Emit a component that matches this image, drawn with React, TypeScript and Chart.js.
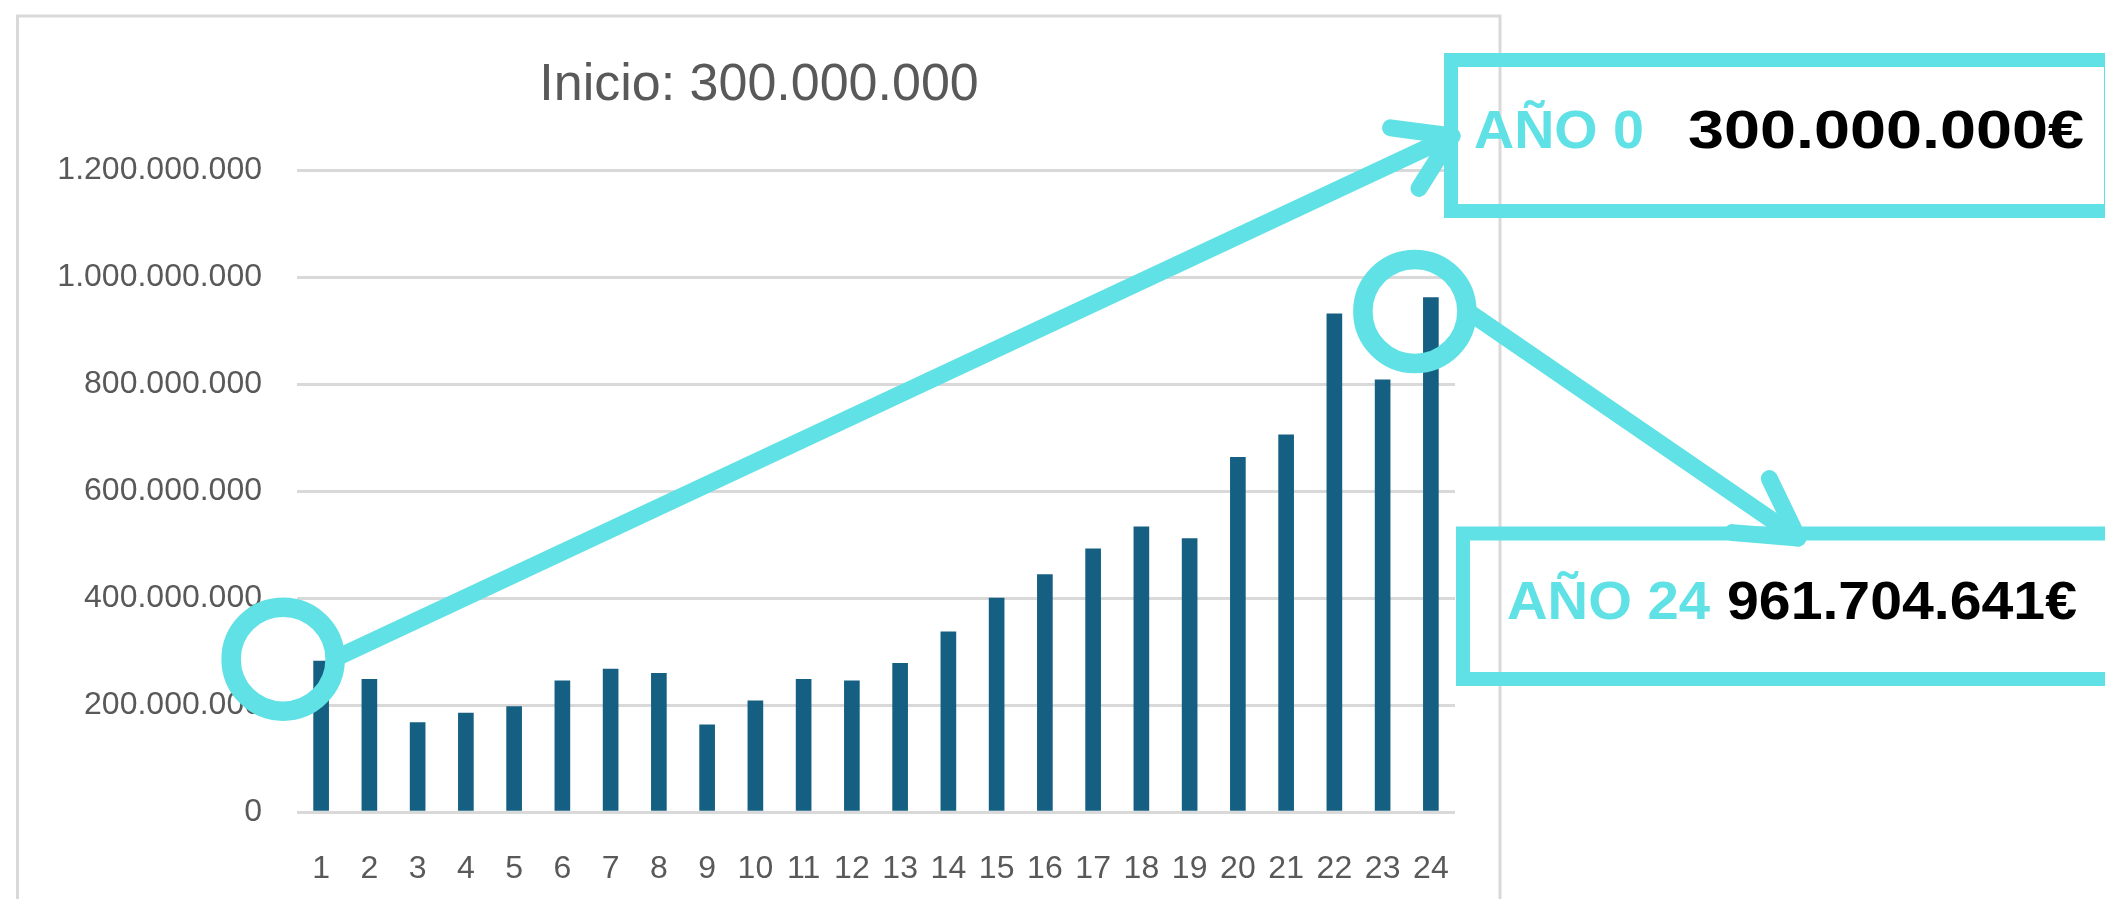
import React, { useEffect, useRef } from "react";
import { Chart, registerables } from "chart.js";

Chart.register(...registerables);

// ---- Data ----
const YEARS: string[] = [
  "1", "2", "3", "4", "5", "6", "7", "8", "9", "10", "11", "12",
  "13", "14", "15", "16", "17", "18", "19", "20", "21", "22", "23", "24",
];
const VALUES: number[] = [
  282e6, 248e6, 167e6, 185e6, 197e6, 245e6, 267e6, 259e6, 163e6, 208e6, 248e6, 245e6,
  278e6, 337e6, 400e6, 444e6, 492e6, 533e6, 511e6, 663e6, 705e6, 931e6, 808e6, 961.704641e6,
];
const Y_MAX = 1.2e9;
const Y_STEP = 2e8;
const TITLE = "Inicio: 300.000.000";
const BOX1_LABEL = "AÑO 0";
const BOX1_VALUE = "300.000.000€";
const BOX2_LABEL = "AÑO 24";
const BOX2_VALUE = "961.704.641€";

// ---- Styles ----
const W = 2105;
const H = 899;
const FONT = "'Liberation Sans', Arial, sans-serif";
const BAR_COLOR = "#156082";
const GRID_COLOR = "#d9d9d9";
const TEXT_COLOR = "#595959";
const CYAN = "#5fe1e5";

const fmt = (v: number) =>
  Math.round(v)
    .toString()
    .replace(/\B(?=(\d{3})+(?!\d))/g, ".");

function drawScaledText(
  ctx: CanvasRenderingContext2D,
  text: string,
  x: number,
  y: number,
  targetW: number
) {
  const w = ctx.measureText(text).width;
  ctx.save();
  ctx.translate(x, y);
  ctx.scale(targetW / w, 1);
  ctx.textAlign = "left";
  ctx.textBaseline = "alphabetic";
  ctx.fillText(text, 0, 0);
  ctx.restore();
}

function drawArrow(
  ctx: CanvasRenderingContext2D,
  sx: number,
  sy: number,
  tx: number,
  ty: number,
  armLen: number,
  armAngle: number
) {
  ctx.beginPath();
  ctx.moveTo(sx, sy);
  ctx.lineTo(tx, ty);
  ctx.stroke();
  const back = Math.atan2(sy - ty, sx - tx);
  ctx.beginPath();
  ctx.moveTo(tx + armLen * Math.cos(back + armAngle), ty + armLen * Math.sin(back + armAngle));
  ctx.lineTo(tx, ty);
  ctx.lineTo(tx + armLen * Math.cos(back - armAngle), ty + armLen * Math.sin(back - armAngle));
  ctx.stroke();
}

const framePlugin = {
  id: "frame",
  beforeDraw(chart: any) {
    const ctx = chart.ctx as CanvasRenderingContext2D;
    ctx.save();
    ctx.fillStyle = "#ffffff";
    ctx.fillRect(0, 0, W, H);
    ctx.strokeStyle = GRID_COLOR;
    ctx.lineWidth = 3;
    ctx.strokeRect(17.5, 16, 1482.5, H + 20);
    ctx.fillStyle = TEXT_COLOR;
    ctx.font = `52px ${FONT}`;
    ctx.textAlign = "center";
    ctx.textBaseline = "alphabetic";
    ctx.fillText(TITLE, 759, 100);
    ctx.restore();
  },
};

const annotationPlugin = {
  id: "annotations",
  afterDraw(chart: any) {
    const ctx = chart.ctx as CanvasRenderingContext2D;
    const xs = chart.scales.x;
    const ys = chart.scales.y;
    const first = xs.getPixelForValue(0);
    const last = xs.getPixelForValue(VALUES.length - 1);
    const firstTop = ys.getPixelForValue(VALUES[0]);
    const lastTop = ys.getPixelForValue(VALUES[VALUES.length - 1]);

    const c1 = { x: first - 38, y: firstTop - 2 };
    const c2 = { x: last - 16, y: lastTop + 14 };

    ctx.save();
    ctx.strokeStyle = CYAN;
    ctx.lineJoin = "round";

    // arrows
    ctx.lineWidth = 17;
    ctx.lineCap = "round";
    drawArrow(ctx, c1.x + 57, c1.y - 3, 1452, 136, 62, 0.57);
    drawArrow(ctx, c2.x + 56, c2.y + 2, 1798, 538, 66, 0.52);

    // circles
    ctx.lineWidth = 19.5;
    ctx.beginPath();
    ctx.arc(c1.x, c1.y, 52, 0, Math.PI * 2);
    ctx.stroke();
    ctx.beginPath();
    ctx.arc(c2.x, c2.y, 52, 0, Math.PI * 2);
    ctx.stroke();

    // boxes
    ctx.lineWidth = 14;
    ctx.lineJoin = "miter";
    ctx.strokeRect(1451, 60, 660, 151);
    ctx.strokeRect(1463, 533.5, 650, 145.5);

    // texts
    ctx.font = `bold 54px ${FONT}`;
    ctx.fillStyle = CYAN;
    drawScaledText(ctx, BOX1_LABEL, 1474, 148, 170);
    drawScaledText(ctx, BOX2_LABEL, 1507, 619, 203);
    ctx.fillStyle = "#000000";
    drawScaledText(ctx, BOX1_VALUE, 1688, 148, 396);
    drawScaledText(ctx, BOX2_VALUE, 1727, 619, 350);
    ctx.restore();
  },
};

export default function App() {
  const ref = useRef<HTMLCanvasElement | null>(null);

  useEffect(() => {
    document.body.style.margin = "0";
    const canvas = ref.current;
    if (!canvas) return;
    const chart = new Chart(canvas, {
      type: "bar",
      data: {
        labels: YEARS,
        datasets: [
          {
            data: VALUES,
            backgroundColor: BAR_COLOR,
            barThickness: 15,
          },
        ],
      },
      options: {
        responsive: false,
        animation: false,
        devicePixelRatio: 1,
        layout: { padding: { left: 0, top: 170, right: 650, bottom: 0 } },
        plugins: {
          legend: { display: false },
          tooltip: { enabled: false },
          title: { display: false },
        },
        scales: {
          x: {
            grid: { display: false },
            border: { display: false },
            ticks: {
              color: TEXT_COLOR,
              font: { family: FONT, size: 32 },
              padding: 30,
              maxRotation: 0,
              autoSkip: false,
            },
            afterFit: (s: any) => {
              s.height = 87;
            },
          },
          y: {
            min: 0,
            max: Y_MAX,
            grid: { color: GRID_COLOR, lineWidth: 3, drawTicks: false },
            border: { display: false },
            ticks: {
              stepSize: Y_STEP,
              color: TEXT_COLOR,
              font: { family: FONT, size: 32 },
              padding: 35,
              callback: (v: any) => fmt(Number(v)),
            },
            afterFit: (s: any) => {
              s.width = 297;
            },
          },
        },
      },
      plugins: [framePlugin, annotationPlugin],
    });
    return () => chart.destroy();
  }, []);

  return (
    <div style={{ width: W, height: H, position: "relative", overflow: "hidden" }}>
      <canvas ref={ref} width={W} height={H} style={{ display: "block", width: W, height: H }} />
    </div>
  );
}
